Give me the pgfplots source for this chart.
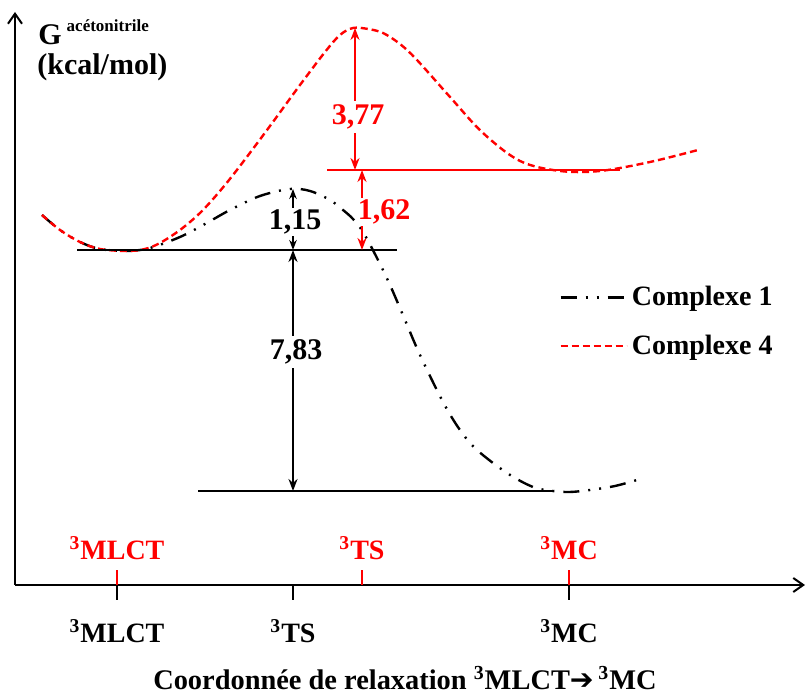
\documentclass[border=0pt]{standalone}
\usepackage{fontspec}
\setmainfont{Liberation Serif}
\newfontfamily\dejavu{DejaVu Sans}
\usepackage{pgfplots}
\usepackage{pgfplotstable}
\pgfplotsset{compat=1.18}
\usetikzlibrary{arrows.meta}
\definecolor{rouge}{RGB}{255,0,0}

% coordinates: x in px of the figure, y = height above the x axis
\pgfplotstableread{
x y
42 370
60 355
80 343
100 336
127 334
150 337
180 348
205 361
230 375
260 389
290 396
310 394
330 385
343 375
353 366
363 353
377 327
390 300
405 265
420 230
443 183
460 155
477 135
507 112
533 98
553 94
570 93
590 95
615 99
637 105
}\complexeun

\pgfplotstableread{
x y
42 370
60 355
80 343
100 336
127 334
145 336
160 342
180 355
200 372
220 394
240 419
270 459
300 500
325 533
340 550
353 557
368 556
383 552
400 541
417 525
450 488
483 452
520 424
560 414
600 414
650 423
698 435
}\complexequatre

\begin{document}
\begin{tikzpicture}
\begin{axis}[
    x=0.5pt, y=0.5pt,
    xmin=15, xmax=805, ymin=0, ymax=573,
    enlargelimits=false,
    clip=false,
    axis lines=left,
    axis line style={line width=1pt, -{Straight Barb[length=5pt,width=7pt]}},
    ytick=\empty,
    xtick={117,293,569},
    xticklabels={\textsuperscript{3}MLCT, \textsuperscript{3}TS, \textsuperscript{3}MC},
    xticklabel style={font=\fontsize{14}{16}\selectfont\bfseries, yshift=-6pt},
    tick align=outside,
    major tick length=7.5pt,
    tick style={black, line width=1pt},
    extra x ticks={117,362,569},
    extra x tick labels={},
    extra x tick style={tick align=inside, tick style={rouge, line width=1pt}},
    legend style={at={(axis cs:553,307)}, anchor=north west, draw=none, fill=none,
        font=\fontsize{14}{16}\selectfont\bfseries, row sep=9pt,
        legend cell align=left},
    legend image code/.code={\draw[#1] (0pt,0pt) -- (33pt,0pt);},
]
\path (axis cs:0,-108) rectangle (axis cs:809,585);

\addplot[black, line width=1.2pt, smooth, tension=0.55,
    dash pattern=on 8pt off 4.5pt on 1pt off 4.5pt on 1pt off 4.5pt] table {\complexeun};
\addlegendentry{Complexe 1}
\addplot[rouge, line width=1.2pt, smooth, tension=0.55,
    dash pattern=on 3.5pt off 2pt] table {\complexequatre};
\addlegendentry{Complexe 4}

% niveaux
\draw[black, line width=1.2pt] (axis cs:77,335) -- (axis cs:397,335);
\draw[black, line width=1.2pt] (axis cs:198,94) -- (axis cs:553,94);
\draw[rouge, line width=1.2pt] (axis cs:327,415) -- (axis cs:620,415);

% écarts
\draw[black, line width=1pt, {Stealth[length=5pt]}-{Stealth[length=5pt]}] (axis cs:293,335) -- (axis cs:293,396);
\node[fill=white, inner sep=1pt, font=\fontsize{15}{18}\selectfont\bfseries] at (axis cs:295,363) {1,15};
\draw[black, line width=1pt, {Stealth[length=6pt]}-{Stealth[length=6pt]}] (axis cs:293,335) -- (axis cs:293,94);
\node[fill=white, inner sep=2pt, font=\fontsize{15}{18}\selectfont\bfseries] at (axis cs:296,233) {7,83};
\draw[rouge, line width=1pt, {Stealth[length=6pt]}-{Stealth[length=6pt]}] (axis cs:355,415) -- (axis cs:355,557);
\node[fill=white, inner sep=2pt, text=rouge, font=\fontsize{15}{18}\selectfont\bfseries] at (axis cs:358,468) {3,77};
\draw[rouge, line width=1pt, {Stealth[length=6pt]}-{Stealth[length=6pt]}] (axis cs:362,415) -- (axis cs:362,335);
\node[fill=white, inner sep=1pt, text=rouge, font=\fontsize{15}{18}\selectfont\bfseries] at (axis cs:384,373) {1,62};

% étiquettes rouges
\node[text=rouge, font=\fontsize{14}{16}\selectfont\bfseries] at (axis cs:117,37) {\textsuperscript{3}MLCT};
\node[text=rouge, font=\fontsize{14}{16}\selectfont\bfseries] at (axis cs:362,37) {\textsuperscript{3}TS};
\node[text=rouge, font=\fontsize{14}{16}\selectfont\bfseries] at (axis cs:569,37) {\textsuperscript{3}MC};

% axe y
\node[anchor=base west, inner sep=0pt, font=\bfseries] at (axis cs:38,540)
    {\fontsize{15}{18}\selectfont G\,\raisebox{6.5pt}{\fontsize{8.5}{10}\selectfont acétonitrile}};
\node[anchor=base west, inner sep=0pt, font=\fontsize{15}{18}\selectfont\bfseries] at (axis cs:37,510) {(kcal/mol)};

% axe x
\node[font=\fontsize{14.2}{17}\selectfont\bfseries] at (axis cs:405,-93)
    {Coordonnée de relaxation \textsuperscript{3}MLCT{\dejavu\bfseries ➔}\,\textsuperscript{3}MC};
\end{axis}
\end{tikzpicture}
\end{document}
